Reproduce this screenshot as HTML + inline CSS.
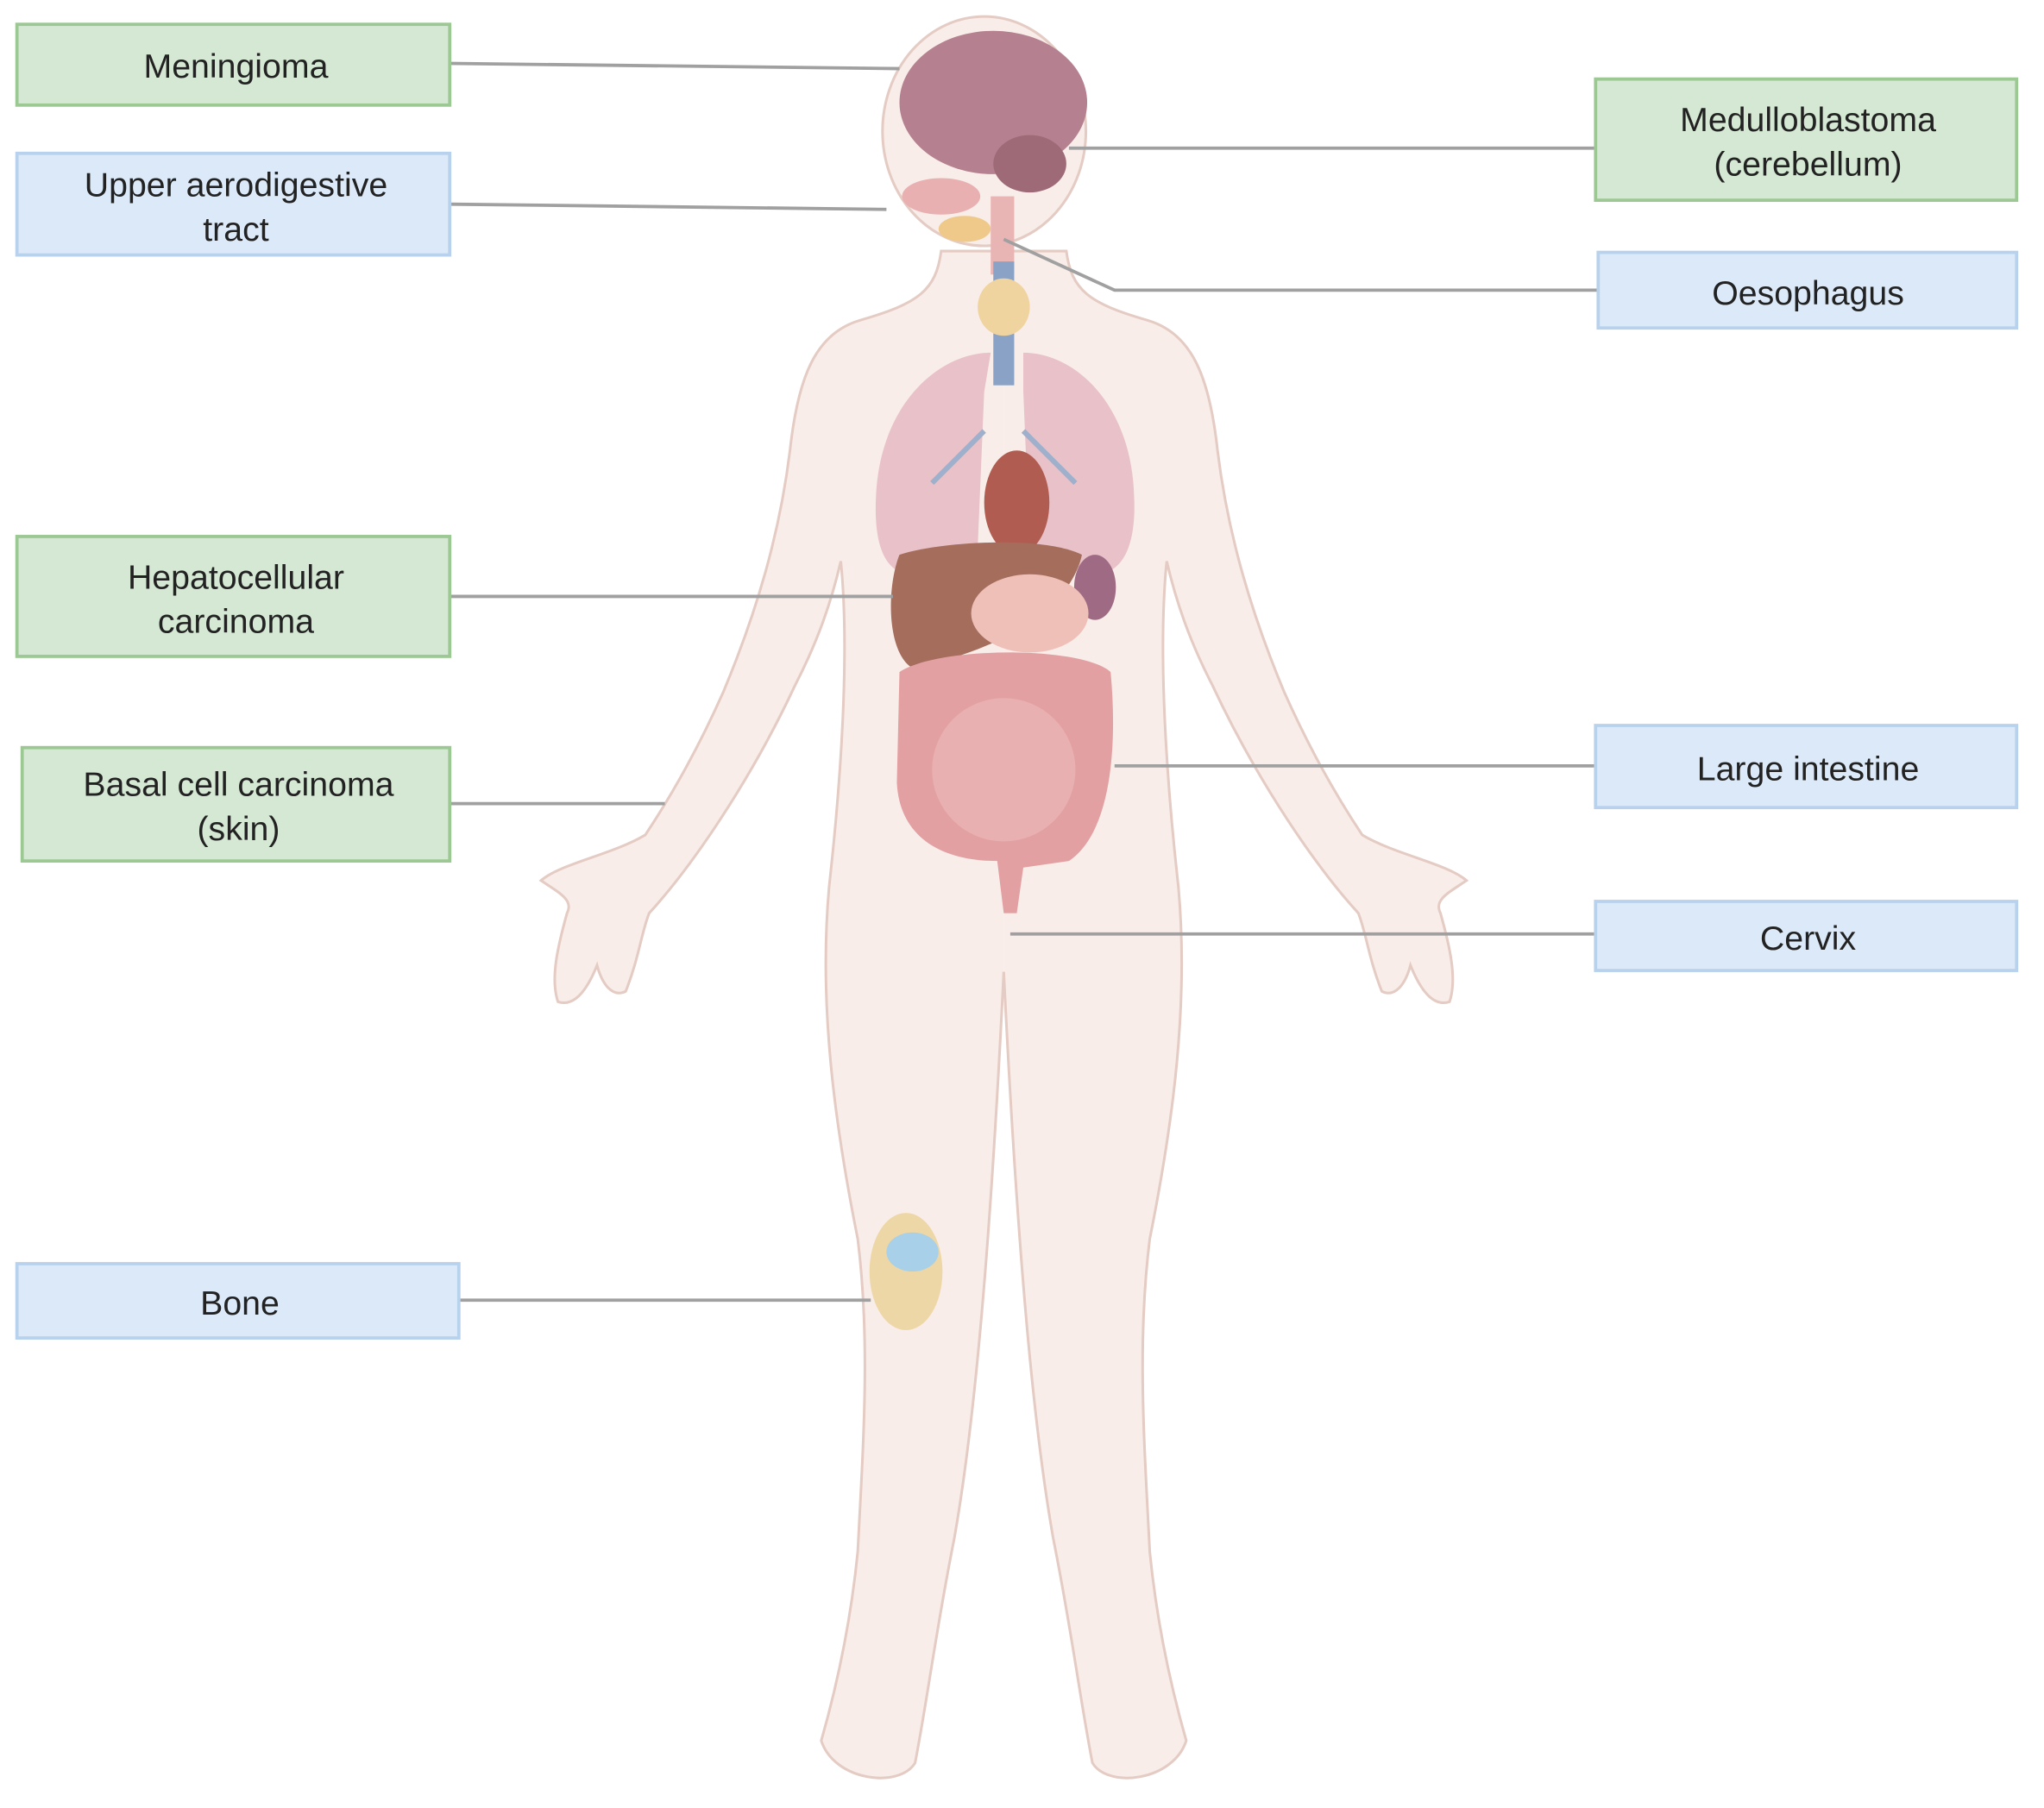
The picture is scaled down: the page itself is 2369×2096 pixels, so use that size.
<!DOCTYPE html>
<html><head><meta charset="utf-8"><style>
html,body{margin:0;padding:0;background:#fff;}
svg{display:block;}
text{font-family:"Liberation Sans",sans-serif;font-size:26px;fill:#222;text-anchor:middle;}
</style></head><body>
<svg width="2369" height="2096" viewBox="0 0 1568 1386" xmlns="http://www.w3.org/2000/svg">
<defs>
<path id="half" d="M770,192 L722,192 C718,222 705,232 660,245 C625,255 612,290 606,345 C598,410 580,470 555,530 C535,575 515,610 495,640 C470,655 430,662 415,675 C430,685 440,690 435,700 C428,725 422,750 428,768 C440,772 450,760 458,740 C462,755 470,765 480,760 C490,735 492,715 498,700 C530,665 575,600 610,525 C628,490 638,460 645,430 C652,500 645,600 636,680 C628,770 640,860 658,950 C668,1030 662,1110 658,1190 C652,1250 640,1300 630,1335 C640,1366 690,1372 702,1352 C712,1300 718,1250 732,1180 C748,1090 760,950 770,745"/>
</defs>
<g fill="#f9ede9" stroke="#e4cbc3" stroke-width="2">
<use href="#half" stroke="none"/>
<use href="#half" fill="none"/>
<use href="#half" stroke="none" transform="translate(1540,0) scale(-1,1)"/>
<use href="#half" fill="none" transform="translate(1540,0) scale(-1,1)"/>
<ellipse cx="755" cy="100" rx="78" ry="88"/>
</g>
<!-- organs -->
<ellipse cx="762" cy="78" rx="72" ry="55" fill="#b5808f"/>
<ellipse cx="790" cy="125" rx="28" ry="22" fill="#9e6a78"/>
<ellipse cx="722" cy="150" rx="30" ry="14" fill="#e8b0b0"/>
<ellipse cx="740" cy="175" rx="20" ry="10" fill="#efc98a"/>
<rect x="760" y="150" width="18" height="60" fill="#e8b4b4"/>
<rect x="762" y="200" width="16" height="95" fill="#8aa2c6"/>
<ellipse cx="770" cy="235" rx="20" ry="22" fill="#f0d4a0"/>
<path d="M760,270 C720,270 675,310 672,380 C670,420 680,440 700,440 L750,420 L755,300 Z" fill="#e8c2c8"/>
<path d="M785,270 C825,270 868,310 870,380 C872,420 860,440 840,440 L790,420 L785,300 Z" fill="#e8c2c8"/>
<path d="M755,330 L715,370 M785,330 L825,370" stroke="#9fb0cc" stroke-width="4"/>
<ellipse cx="780" cy="385" rx="25" ry="40" fill="#b05c50"/>
<path d="M690,425 C720,415 800,410 830,425 C820,470 760,500 700,512 C680,500 680,450 690,425 Z" fill="#a46d5c"/>
<ellipse cx="840" cy="450" rx="16" ry="25" fill="#9e6a84"/>
<ellipse cx="790" cy="470" rx="45" ry="30" fill="#efc0b8"/>
<path d="M690,515 C720,495 830,495 852,515 C858,580 850,640 820,660 L785,665 L780,700 L770,700 L765,660 C720,660 690,640 688,600 Z" fill="#e2a0a2"/>
<ellipse cx="770" cy="590" rx="55" ry="55" fill="#e8b0b0"/>
<ellipse cx="695" cy="975" rx="28" ry="45" fill="#eed7a6"/>
<ellipse cx="700" cy="960" rx="20" ry="15" fill="#a8d0e8"/>
<!-- connectors -->
<g stroke="#a0a0a0" stroke-width="2.5" fill="none">
<path d="M345,48 L690,52"/>
<path d="M345,156 L680,160"/>
<path d="M345,457 L685,457"/>
<path d="M345,616 L510,616"/>
<path d="M352,997 L668,997"/>
<path d="M1224,113 L820,113"/>
<path d="M1226,222 L855,222 L770,183"/>
<path d="M1224,587 L855,587"/>
<path d="M1224,716 L775,716"/>
</g>
<!-- boxes -->
<g stroke-width="2.5">
<rect x="13" y="18" width="332" height="62" fill="#d5e8d4" stroke="#9cc894"/>
<rect x="13" y="117" width="332" height="78" fill="#dbe9f8" stroke="#b8d2ee"/>
<rect x="13" y="411" width="332" height="92" fill="#d5e8d4" stroke="#9cc894"/>
<rect x="17" y="573" width="328" height="87" fill="#d5e8d4" stroke="#9cc894"/>
<rect x="13" y="969" width="339" height="57" fill="#dbe9f8" stroke="#b8d2ee"/>
<rect x="1224" y="60" width="323" height="93" fill="#d5e8d4" stroke="#9cc894"/>
<rect x="1226" y="193" width="321" height="58" fill="#dbe9f8" stroke="#b8d2ee"/>
<rect x="1224" y="556" width="323" height="63" fill="#dbe9f8" stroke="#b8d2ee"/>
<rect x="1224" y="691" width="323" height="53" fill="#dbe9f8" stroke="#b8d2ee"/>
</g>
<text x="181" y="59">Meningioma</text>
<text x="181" y="150">Upper aerodigestive</text>
<text x="181" y="184">tract</text>
<text x="181" y="451">Hepatocellular</text>
<text x="181" y="485">carcinoma</text>
<text x="183" y="610">Basal cell carcinoma</text>
<text x="183" y="644">(skin)</text>
<text x="184" y="1008">Bone</text>
<text x="1387" y="100">Medulloblastoma</text>
<text x="1387" y="134">(cerebellum)</text>
<text x="1387" y="233">Oesophagus</text>
<text x="1387" y="598">Large intestine</text>
<text x="1387" y="728">Cervix</text>
</svg>
</body></html>
